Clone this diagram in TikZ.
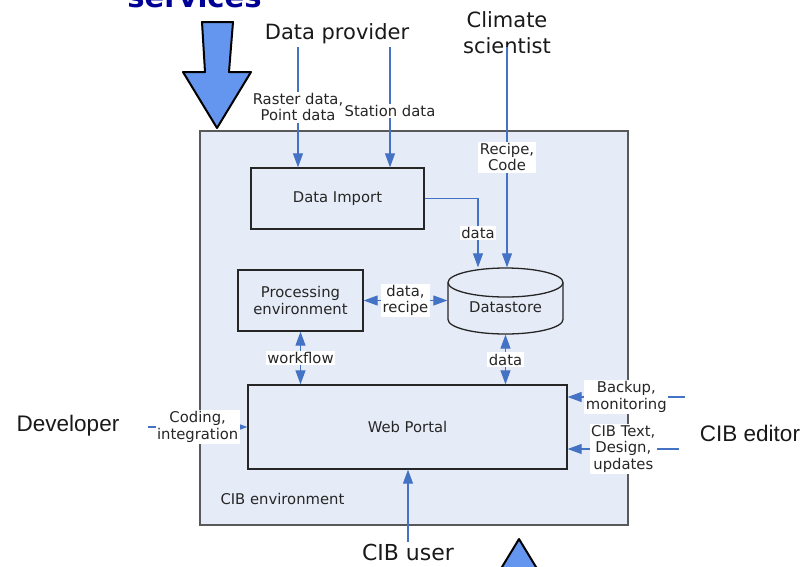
\documentclass[tikz,border=0pt]{standalone}
\usepackage{fontspec}
\setmainfont{DejaVu Sans}
\newfontfamily\arialfont{Liberation Sans}
\usetikzlibrary{arrows.meta}
\definecolor{lineblue}{RGB}{68,114,196}
\definecolor{envfill}{RGB}{230,236,247}
\definecolor{arrowfill}{RGB}{100,150,240}
\definecolor{titleblue}{RGB}{0,0,150}

\begin{document}
\begin{tikzpicture}[x=1pt, y=-1pt,
	>={Triangle[length=14pt, width=10pt]},
	box/.style={draw=black!85, line width=1.3pt, fill=envfill, text=black!85, align=center, font=\fontsize{14.8pt}{16.5pt}\selectfont},
	drum/.style={draw=black!85, line width=1.3pt, fill=envfill},
	flow/.style={draw=lineblue, line width=1.1pt},
	lbl/.style={fill=white, inner xsep=1.5pt, inner ysep=1.5pt, text=black!85, align=center, font=\fontsize{14.8pt}{16.5pt}\selectfont},
	actor/.style={text=black!90, align=center, font=\fontsize{21pt}{26pt}\selectfont},
	person/.style={text=black!90, font=\arialfont\fontsize{22.5pt}{26pt}\selectfont},
	bigarrow/.style={fill=arrowfill, draw=black, line width=2pt, line join=round}]

	\useasboundingbox (0,0) rectangle (800,566);
	\clip (0,0) rectangle (800,566);

	% Environment and its parts
	\node[draw=black!65, line width=1.5pt, fill=envfill, minimum width=428pt, minimum height=394pt] (env) at (414,328) {};
	\node[anchor=base west, text=black!85, font=\fontsize{14.8pt}{16.5pt}\selectfont] (envname) at (217,504) {CIB environment};

	\node[box, minimum width=173pt, minimum height=61pt] (imp) at (337.5,198.5) {Data Import};
	\node[box, minimum width=125pt, minimum height=61pt] (proc) at (300.5,300.5) {Processing\\environment};
	\node[box, minimum width=319pt, minimum height=84pt] (portal) at (407.5,427) {Web Portal};

	% Datastore drum
	\coordinate (storec) at (505.5,301);
	\draw[drum] ([shift={(-57.5,-18.5)}]storec) -- ([shift={(-57.5,18.5)}]storec)
		arc[start angle=180, end angle=360, x radius=57.5pt, y radius=14.5pt]
		-- ([shift={(57.5,-18.5)}]storec)
		arc[start angle=0, end angle=180, x radius=57.5pt, y radius=14.5pt] -- cycle;
	\draw[drum, fill=none] ([shift={(-57.5,-18.5)}]storec) arc[start angle=180, end angle=360, x radius=57.5pt, y radius=14.5pt];
	\node[box, draw=none, fill=none, minimum width=115pt, minimum height=66pt, text height=23pt] (store) at (storec) {Datastore};

	% People around it
	\node[anchor=base, font=\bfseries\fontsize{29pt}{32pt}\selectfont, text=titleblue] (services) at (194.5,7) {services};
	\node[actor, anchor=base] (prov) at (337,39) {Data provider};
	\node[actor] (clim) at (507,33) {Climate\\scientist};
	\node[person, anchor=base] (dev) at (68,431) {Developer};
	\node[person, anchor=base] (editor) at (750,441) {CIB editor};
	\node[actor, anchor=base, font=\fontsize{22pt}{26pt}\selectfont] (user) at (408,560) {CIB user};

	\coordinate (rasterin) at (298,47);
	\coordinate (stationin) at (390,47);
	\coordinate (recipein) at (507,47);
	\coordinate (devout) at (148,427);
	\coordinate (backupout) at (685,397);
	\coordinate (textout) at (679,449);
	\coordinate (userout) at (408,542);

	% Draw the connectors with their labels
	\draw[flow, ->] (rasterin) -- node[lbl] {Raster data,\\Point data} (rasterin |- imp.north);
	\draw[flow, ->] (stationin) -- node[lbl, pos=0.53] {Station data} (stationin |- imp.north);
	\draw[flow, ->] (recipein) -- node[lbl] {Recipe,\\Code} (recipein |- store.north);
	\draw[flow, ->] (imp.east) -| node[lbl, pos=0.75] {data} ([xshift=-27.5pt]store.north);
	\draw[flow, <->] (proc.east) -- node[lbl] {data,\\recipe} (proc.east -| store.west);
	\draw[flow, <->] (proc.south) -- node[lbl] {workflow} (proc.south |- portal.north);
	\draw[flow, <->] (store.south) -- node[lbl] {data} (store.south |- portal.north);
	\draw[flow, ->] (devout) -- node[lbl] {Coding,\\integration} (portal.west);
	\draw[flow, ->] (backupout) -- node[lbl] {Backup,\\monitoring} (backupout -| portal.east);
	\draw[flow, ->] (textout) -- node[lbl] {CIB Text,\\Design,\\updates} (textout -| portal.east);
	\draw[flow, ->] (userout) -- (userout |- portal.south);

	% Big arrows
	\draw[bigarrow] (202,22) -- (233,22) -- (229,72) -- (251,72) -- (217,128) -- (183,72) -- (205,72) -- cycle;
	\draw[bigarrow] (519,539) -- (553,595) -- (485,595) -- cycle;
\end{tikzpicture}
\end{document}
